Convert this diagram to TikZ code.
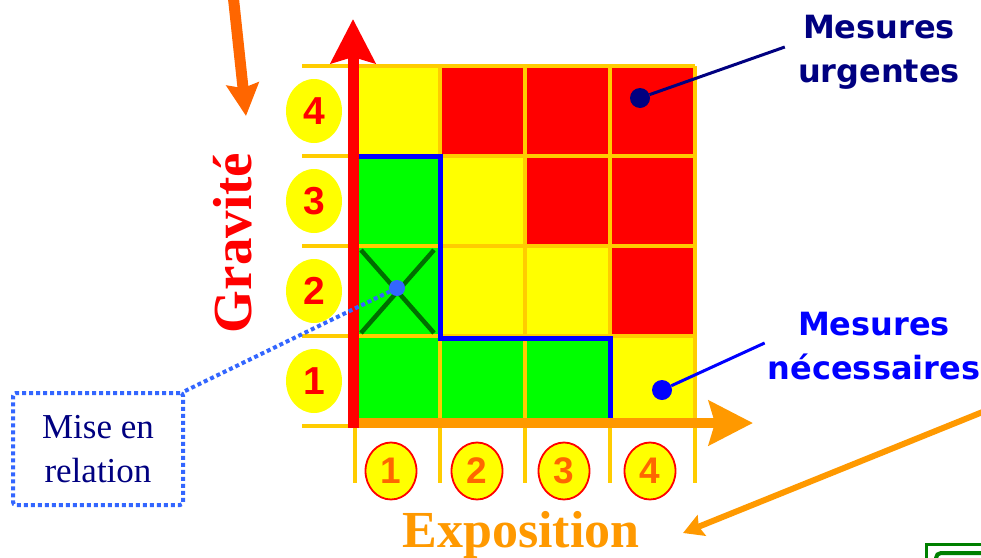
\documentclass[tikz,border=0pt]{standalone}
\usepackage{fontspec}
\setmainfont{Liberation Serif}
\newfontfamily\verdfont{DejaVu Sans}
\newfontfamily\arialfont{Liberation Sans}
\usetikzlibrary{arrows.meta,positioning,shapes.geometric}
\definecolor{riskY}{RGB}{255,255,0}
\definecolor{riskR}{RGB}{255,0,0}
\definecolor{riskG}{RGB}{0,255,0}
\definecolor{gridGold}{RGB}{255,204,0}
\definecolor{axisOrange}{RGB}{255,153,0}
\definecolor{pointerOrange}{RGB}{255,102,0}
\definecolor{zoneBlue}{RGB}{0,0,255}
\definecolor{crossGreen}{RGB}{0,110,0}
\definecolor{linkBlue}{RGB}{51,102,255}
\definecolor{navyText}{RGB}{0,0,128}
\definecolor{frameGreen}{RGB}{0,128,0}
\tikzset{
  gnum/.style={ellipse, fill=riskY, minimum width=56pt, minimum height=64pt,
               inner sep=0pt, text=riskR,
               font=\arialfont\bfseries\fontsize{39}{39}\selectfont},
  enum/.style={ellipse, fill=riskY, draw=riskR, line width=1.8pt,
               minimum width=51pt, minimum height=57pt, inner sep=0pt,
               text=pointerOrange, font=\arialfont\bfseries\fontsize{37}{37}\selectfont},
  axislabel/.style={font=\bfseries\fontsize{#1}{#1}\selectfont, inner sep=0pt},
  callout/.style={font=\verdfont\bfseries\fontsize{32}{44}\selectfont,
                  align=center, inner sep=0pt, text=#1},
  dot/.style={circle, fill=#1, minimum size=20pt, inner sep=0pt},
  relbox/.style={rectangle, rounded corners=3pt, draw=linkBlue, line width=4pt,
                 dash pattern=on 4pt off 3pt, minimum width=170pt, minimum height=112pt,
                 align=center, text=navyText, font=\fontsize{35}{44}\selectfont},
  axisarr/.style={-{Stealth[length=44pt, width=44pt, inset=6pt]}, line width=11pt, #1},
  gridline/.style={gridGold, line width=4.5pt},
}

\begin{document}
\begin{tikzpicture}[x=1pt, y=-1pt]
  \useasboundingbox (0,0) rectangle (981,557);

  \foreach \cx/\cy/\cc in {0/0/riskY,1/0/riskR,2/0/riskR,3/0/riskR,
                           0/1/riskG,1/1/riskY,2/1/riskR,3/1/riskR,
                           0/2/riskG,1/2/riskY,2/2/riskY,3/2/riskR,
                           0/3/riskG,1/3/riskG,2/3/riskG,3/3/riskY}
    \fill[\cc] (355+85*\cx,66+90*\cy) rectangle ++(85,90);

  \foreach \gy in {66,156,246,336,426}
    \draw[gridline] (302,\gy) -- (695,\gy);
  \foreach \gx in {355,440,525,610,695}
    \draw[gridline] (\gx,66) -- (\gx,483);

  \draw[crossGreen, line width=4.5pt] (361,250) -- (434,333) (434,250) -- (361,333);
  \draw[zoneBlue, line width=5pt] (359,156) -- (440,156) -- (440,338) -- (610,338) -- (610,420);

  \draw[axisarr=axisOrange, line width=10pt] (353,423) -- (753,423);
  \draw[axisarr=riskR] (353,428) -- (353,19);

  \foreach \n [count=\k] in {4,3,2,1}
    \node[gnum] (g\n) at (314,21+90*\k) {\n};
  \foreach \n/\ex in {1/391,2/477,3/564,4/650}
    \node[enum] (e\n) at (\ex,471) {\n};

  \node[axislabel=55, text=riskR, rotate=90] (gravite) at (232.5,243) {Gravité};
  \node[axislabel=52, text=axisOrange, anchor=base] (expo) at (521,547) {Exposition};

  \coordinate (topfrom) at (233,-6);
  \coordinate (topto) at (246,116);
  \draw[-{Stealth[length=32pt, width=32pt, inset=4pt]}, line width=11pt, pointerOrange] (topfrom) -- (topto);
  \coordinate (expofrom) at (990,409);
  \coordinate (expoto) at (683,533);
  \draw[-{Stealth[length=20pt, width=22pt, inset=3pt]}, line width=6pt, axisOrange] (expofrom) -- (expoto);

  \node[callout=navyText] (urgtext) at (879,52) {Mesures\\urgentes};
  \node[dot=navyText] (urgdot) at (640,98) {};
  \draw[navyText, line width=3pt] (urgdot) -- ([xshift=-13pt, yshift=5pt]urgtext.west);

  \node[callout=zoneBlue] (nectext) at (874,346) {Mesures\\nécessaires};
  \node[dot=zoneBlue] (necdot) at (662,390) {};
  \draw[zoneBlue, line width=3pt] (necdot) -- ([xshift=-3pt, yshift=3pt]nectext.west);

  \node[dot=linkBlue, minimum size=16pt] (reldot) at (397,288) {};
  \node[relbox] (relbox) at (98,449) {Mise en\\relation};
  \draw[linkBlue, line width=4pt, dash pattern=on 4pt off 3pt] (relbox.north east) -- (reldot);

  \draw[frameGreen, line width=3pt] (926.5,544.5) rectangle (1000,600);
  \draw[frameGreen, line width=4pt, rounded corners=5pt] (936,553) rectangle (1000,600);
\end{tikzpicture}
\end{document}
